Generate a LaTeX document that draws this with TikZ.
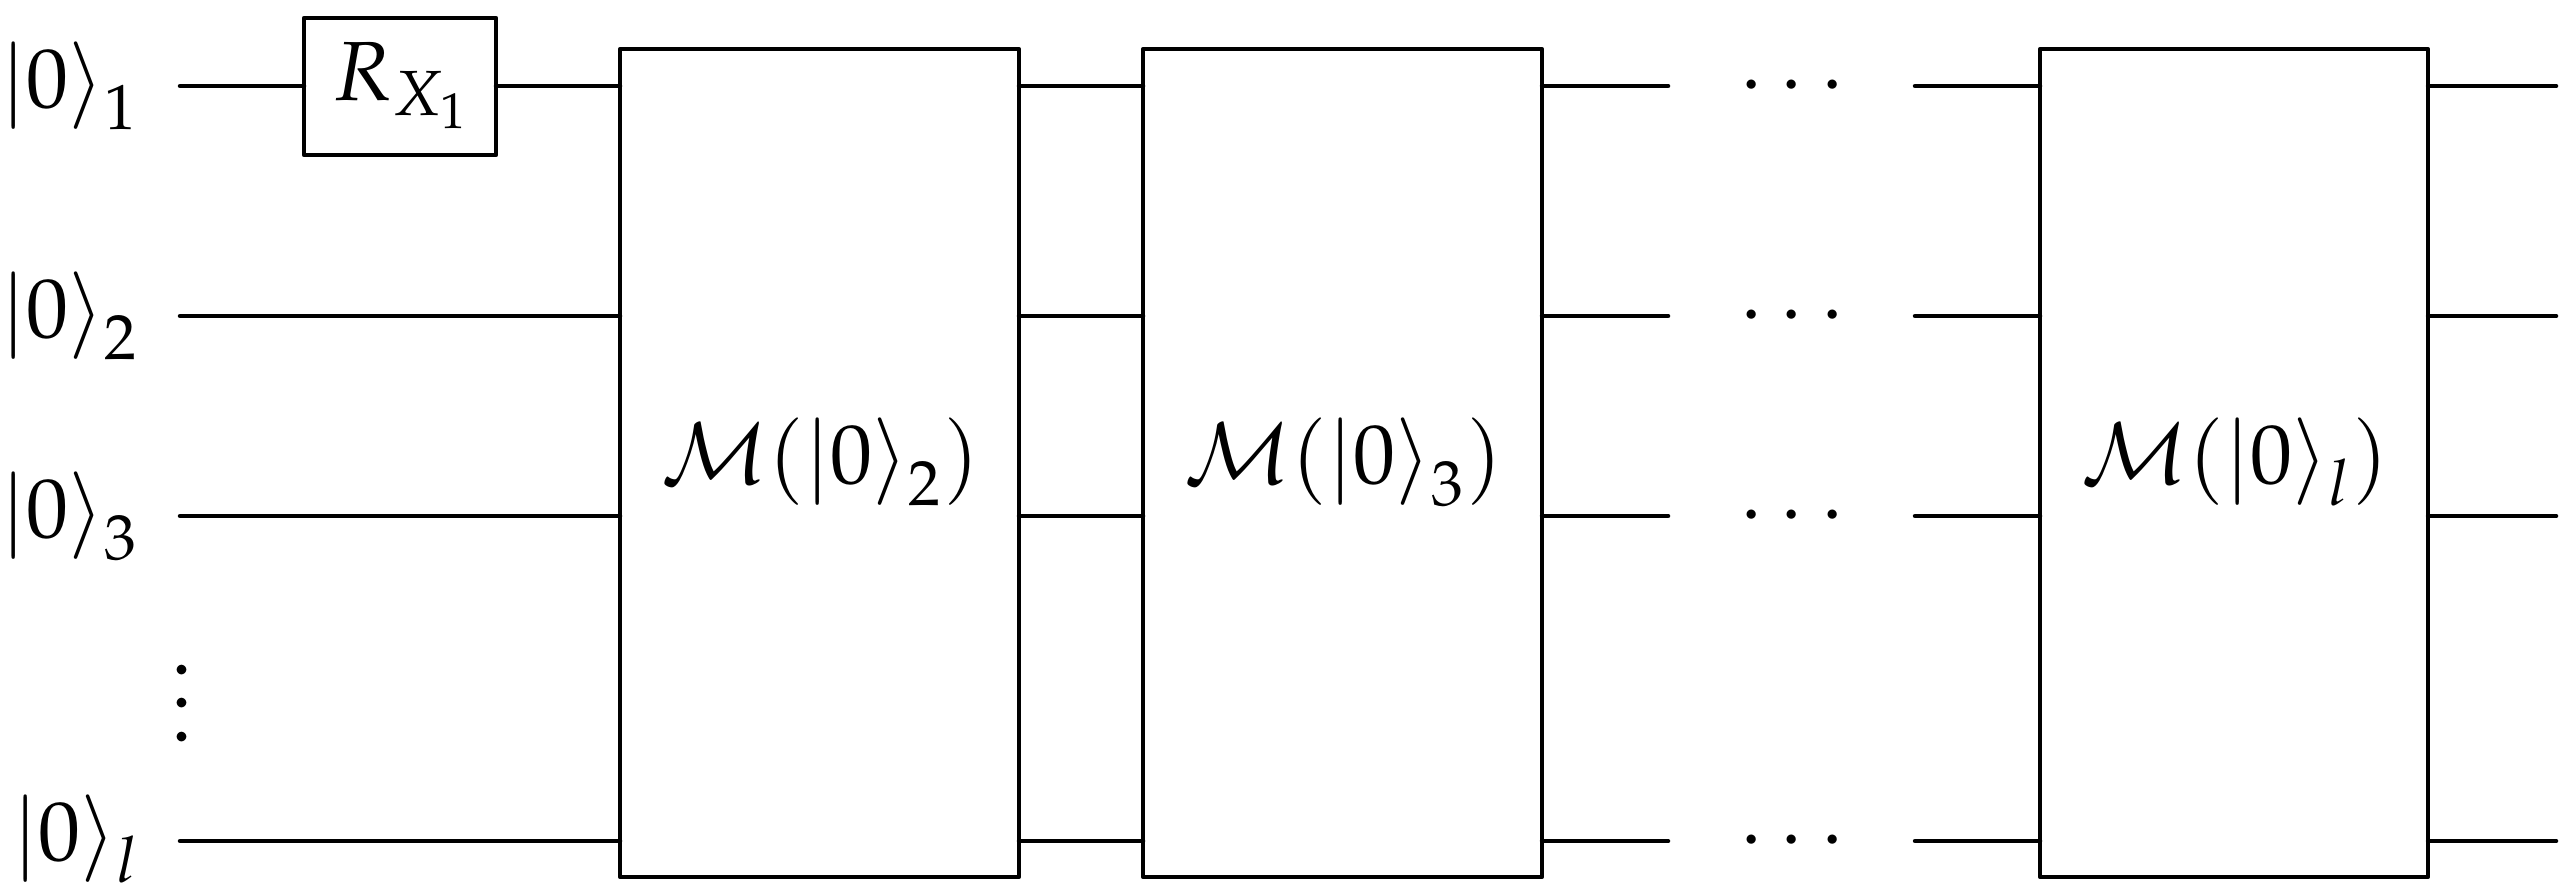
\documentclass[tikz,border=0pt]{standalone}
\usepackage{amsmath}
\usepackage{mathpazo}
\newcommand{\ketz}[1]{\lvert 0\rangle_{\raisebox{-1.9pt}{$\scriptstyle #1$}}}
\newcommand{\threedots}{\vbox{\baselineskip=6.7pt\lineskiplimit=-\maxdimen\hbox{$.$}\hbox{$.$}\hbox{$.$}}}
\tikzset{
  x=0.2pt,y=-0.2pt,
  wire/.style={line width=0.9pt,line cap=round},
  gate/.style={draw,line width=0.9pt,rectangle,inner sep=0pt,outer sep=0pt,line join=round},
  bigbox/.style={gate,minimum width=79.8pt,minimum height=165.5pt},
  lab/.style={inner sep=0pt,outer sep=0pt,anchor=base west,font=\fontsize{16.8}{20}\selectfont},
  dotlab/.style={inner sep=0pt,outer sep=0pt,anchor=center,font=\fontsize{16.8}{20}\selectfont}
}
\begin{document}
\begin{tikzpicture}
\useasboundingbox (0,0) rectangle (2572,895);
% wire heights
\coordinate (s1) at (180,86);
\coordinate (s2) at (180,316);
\coordinate (s3) at (180,516);
\coordinate (s4) at (180,841);
% boxes
\node[gate,minimum width=38.4pt,minimum height=27.4pt] (rx) at (400,86.5) {};
\node[bigbox] (m2) at (819.5,463) {};
\node[bigbox] (m3) at (1342.5,463) {};
\node[bigbox,minimum width=77.6pt] (ml) at (2234,463) {};
% labels
\node[lab] (k1) at (0,107) {$\ketz{1}$};
\node[lab] (k2) at (0,337) {$\ketz{2}$};
\node[lab] (k3) at (0,537) {$\ketz{3}$};
\node[lab] (kl) at (12,860) {$\ketz{l}$};
\node[lab] (rl) at (333,100) {$R_{X_1}$};
\node[lab] (m2l) at (661,483) {$\mathcal{M}(\ketz{2})$};
\node[lab] (m3l) at (1184,483) {$\mathcal{M}(\ketz{3})$};
\node[lab] (mll) at (2081,483) {$\mathcal{M}(\ketz{l})$};
\node[dotlab] (vd) at (182,703) {\threedots};
\foreach \n/\y in {d1/87,d2/317,d3/517,d4/842}
  \node[dotlab] (\n) at (1799,\y) {$\cdots$};
% wire ends around the gap
\foreach \i/\y in {1/86,2/316,3/516,4/841}{
  \coordinate (ga\i) at (1668,\y);
  \coordinate (gb\i) at (1915,\y);
  \coordinate (e\i) at (2556,\y);
  \draw[wire] (m3.east |- ga\i) -- (ga\i);
  \draw[wire] (gb\i) -- (ml.west |- gb\i);
  \draw[wire] (ml.east |- e\i) -- (e\i);
  \draw[wire] (m2.east |- ga\i) -- (m3.west |- ga\i);
}
\draw[wire] (s1) -- (rx.west |- s1);
\draw[wire] (rx.east |- s1) -- (m2.west |- s1);
\draw[wire] (s2) -- (m2.west |- s2);
\draw[wire] (s3) -- (m2.west |- s3);
\draw[wire] (s4) -- (m2.west |- s4);
\end{tikzpicture}
\end{document}
